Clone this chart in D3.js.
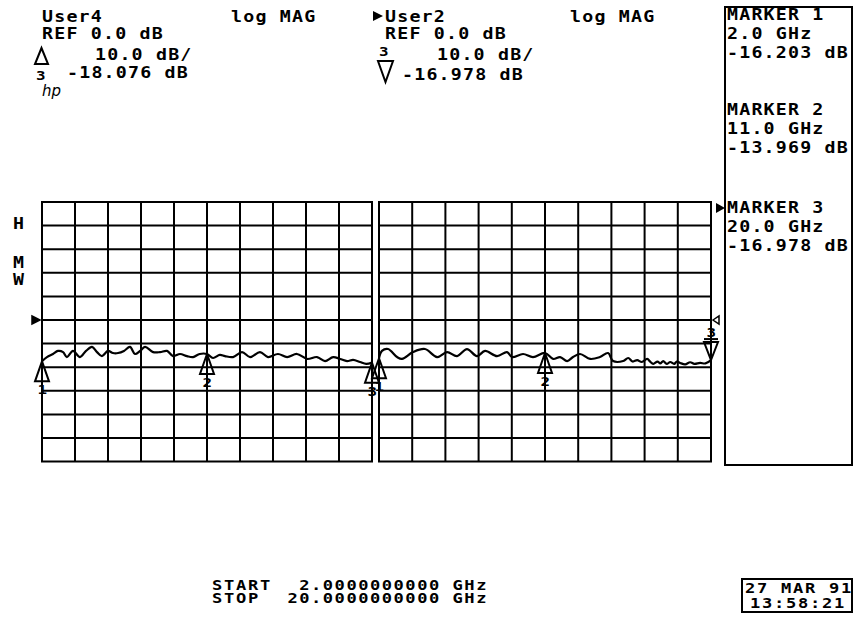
<!DOCTYPE html>
<html>
<head>
<meta charset="utf-8">
<script src="https://cdn.jsdelivr.net/npm/d3@7"></script>
<style>
  html, body { margin: 0; padding: 0; background: #fff; }
  svg { display: block; }
  text { font-family: "DejaVu Sans Mono", monospace; font-weight: bold; fill: #000; }
</style>
</head>
<body>
<svg id="chart" width="854" height="617"></svg>
<script>
// Sweep and scale settings
const startGHz = 2, stopGHz = 20;
const refDb = 0, dbPerDiv = 10;
const hDivs = 10, vDivsAbove = 5, vDivsBelow = 6;

// Channel 1 (User4) trace, GHz / dB
const user4Freq = [2.0, 2.27, 2.6, 2.87, 3.15, 3.36, 3.69, 4.07, 4.4, 4.73, 5.0, 5.27, 5.6, 5.87, 6.15, 6.47, 6.8, 7.07, 7.35, 7.62, 8.06, 8.44, 8.82, 9.15, 9.53, 9.91, 10.24, 10.6, 11.0, 11.33, 11.7, 11.98, 12.42, 12.91, 13.35, 13.89, 14.33, 14.87, 15.37, 15.91, 16.46, 17.0, 17.44, 17.88, 18.26, 18.64, 18.97, 19.35, 19.68, 20.0];
const user4Db = [-17.5, -15.7, -14.4, -13.1, -13.6, -15.7, -13.1, -15.7, -13.1, -11.4, -13.6, -15.3, -13.1, -14.0, -14.0, -13.1, -11.4, -14.4, -13.1, -11.4, -13.6, -13.6, -13.1, -15.3, -14.4, -15.3, -15.7, -14.4, -14.4, -16.1, -14.8, -15.3, -15.7, -13.6, -15.7, -13.6, -15.7, -14.4, -15.7, -14.4, -16.5, -15.7, -17.4, -15.7, -16.5, -17.4, -16.9, -17.8, -18.6, -18.076];

// Channel 2 (User2) trace, GHz / dB
const user2Freq = [2.0, 2.16, 2.49, 2.98, 3.25, 3.84, 4.49, 5.15, 5.69, 6.23, 6.77, 7.31, 7.75, 8.4, 8.94, 9.21, 9.81, 10.35, 11.0, 11.44, 11.82, 12.2, 12.52, 12.9, 13.45, 13.98, 14.42, 14.69, 15.24, 15.51, 15.75, 16.0, 16.25, 16.54, 16.7, 16.87, 17.1, 17.25, 17.41, 17.6, 17.79, 18.0, 18.15, 18.33, 18.6, 18.87, 19.1, 19.41, 19.7, 20.0];
const user2Db = [-16.203, -13.1, -12.3, -15.7, -16.5, -13.6, -12.3, -15.7, -13.6, -15.3, -12.3, -15.3, -13.1, -15.3, -13.6, -15.7, -14.4, -15.7, -13.969, -16.5, -15.7, -17.4, -15.7, -14.4, -16.5, -15.7, -14.0, -17.4, -17.4, -16.1, -17.6, -17.0, -17.8, -16.5, -17.6, -18.6, -17.6, -18.4, -17.4, -18.6, -17.8, -18.6, -17.6, -18.2, -18.8, -17.9, -18.6, -18.2, -18.4, -16.978];

// Markers (GHz) and the marker readout of the active channel
const markerFreq = [2.0, 11.0, 20.0];
const markerNames = ["MARKER 1", "MARKER 2", "MARKER 3"];
const markerFreqLabels = ["2.0 GHz", "11.0 GHz", "20.0 GHz"];
const markerValueLabels = ["-16.203 dB", "-13.969 dB", "-16.978 dB"];

// Header annotations
const chan1Header = ["User4", "REF 0.0 dB", "10.0 dB/", "-18.076 dB"];
const chan2Header = ["User2", "REF 0.0 dB", "10.0 dB/", "-16.978 dB"];
const formatLabel = "log MAG";
const sweepLabels = ["START", "STOP"];
const sweepValues = ["2.0000000000 GHz", "20.0000000000 GHz"];
const dateLabels = ["27 MAR 91", "13:58:21"];
const sideLetters = ["H", "M", "W"];

const svg = d3.select("#chart");

// Wide plotter-style text: horizontal stretch plus spacing to a fixed pitch
function label(x, y, str, size = 15, pitch = 12.2, anchor = "start") {
  const adv = 0.602 * size;
  const sx = 1.22;
  const ls = pitch / sx - adv;
  const width = pitch * str.length;
  let x0 = x;
  if (anchor === "end") x0 = x - width;
  if (anchor === "middle") x0 = x - width / 2;
  return svg.append("text")
    .attr("transform", `translate(${x0},${y}) scale(${sx},1)`)
    .attr("font-size", size)
    .attr("letter-spacing", ls)
    .text(str);
}

// Grid panes
const gridTop = 202, rowH = 23.6;
const gridBottom = gridTop + rowH * (vDivsAbove + vDivsBelow);
const y = d3.scaleLinear()
  .domain([refDb + vDivsAbove * dbPerDiv, refDb - vDivsBelow * dbPerDiv])
  .range([gridTop, gridBottom]);
const xLeft = d3.scaleLinear().domain([startGHz, stopGHz]).range([42, 372]);
const xRight = d3.scaleLinear().domain([startGHz, stopGHz]).range([379, 711]);

const freqTicks = d3.range(hDivs + 1).map(i => startGHz + i * (stopGHz - startGHz) / hDivs);
const dbTicks = d3.range(vDivsAbove + vDivsBelow + 1).map(i => refDb + vDivsAbove * dbPerDiv - i * dbPerDiv);

function drawGrid(x) {
  const g = svg.append("g").attr("stroke", "#000").attr("stroke-width", 2).attr("fill", "none");
  g.selectAll("line.v").data(freqTicks).join("line")
    .attr("x1", d => x(d)).attr("x2", d => x(d))
    .attr("y1", y.range()[0]).attr("y2", y.range()[1]);
  g.selectAll("line.h").data(dbTicks).join("line")
    .attr("x1", x.range()[0] - 1).attr("x2", x.range()[1] + 1)
    .attr("y1", d => y(d)).attr("y2", d => y(d));
}
drawGrid(xLeft);
drawGrid(xRight);

// Traces
const line = x => d3.line().x(d => x(d.f)).y(d => y(d.db)).curve(d3.curveCatmullRom.alpha(0.5));
const user4 = user4Freq.map((f, i) => ({ f, db: user4Db[i] }));
const user2 = user2Freq.map((f, i) => ({ f, db: user2Db[i] }));
svg.append("path").datum(user4).attr("d", line(xLeft))
  .attr("fill", "none").attr("stroke", "#000").attr("stroke-width", 2.2).attr("stroke-linejoin", "round");
svg.append("path").datum(user2).attr("d", line(xRight))
  .attr("fill", "none").attr("stroke", "#000").attr("stroke-width", 2.2).attr("stroke-linejoin", "round");

function traceAt(data, f) {
  const i = data.findIndex(d => d.f === f);
  return data[i].db;
}

// Marker symbols
function upMarker(px, py, n) {
  svg.append("path")
    .attr("d", `M${px},${py} L${px - 7},${py + 20} L${px + 7},${py + 20} Z`)
    .attr("fill", "none").attr("stroke", "#000").attr("stroke-width", 2);
  svg.append("line").attr("x1", px).attr("x2", px).attr("y1", py + 20).attr("y2", py + 24)
    .attr("stroke", "#000").attr("stroke-width", 2);
  label(px, py + 33, String(n), 13, 9, "middle");
}
function downMarker(px, py, n) {
  svg.append("path")
    .attr("d", `M${px},${py} L${px - 7},${py - 18} L${px + 7},${py - 18} Z`)
    .attr("fill", "none").attr("stroke", "#000").attr("stroke-width", 2);
  svg.append("line").attr("x1", px - 7).attr("x2", px + 7).attr("y1", py - 21).attr("y2", py - 21)
    .attr("stroke", "#000").attr("stroke-width", 2);
  label(px, py - 23, String(n), 13, 9, "middle");
}
markerFreq.forEach((f, i) => upMarker(xLeft(f), y(traceAt(user4, f)), i + 1));
markerFreq.forEach((f, i) => {
  if (i < 2) upMarker(xRight(f), y(traceAt(user2, f)), i + 1);
  else downMarker(xRight(f), y(traceAt(user2, f)), i + 1);
});

// Reference level pointers
svg.append("path")
  .attr("d", `M${32},${y(refDb) - 4} L${40},${y(refDb)} L${32},${y(refDb) + 4} Z`)
  .attr("fill", "#000").attr("stroke", "#000").attr("stroke-width", 1.5);
svg.append("path")
  .attr("d", `M${713},${y(refDb)} L${719},${y(refDb) - 4} L${719},${y(refDb) + 4} Z`)
  .attr("fill", "none").attr("stroke", "#000").attr("stroke-width", 1.5);

// Side letters
label(13, 229, sideLetters[0], 15, 12);
label(13, 268, sideLetters[1], 15, 12);
label(13, 285, sideLetters[2], 15, 12);

// Channel 1 header
label(42, 22, chan1Header[0]);
label(42, 39, chan1Header[1]);
label(95, 60, chan1Header[2]);
label(67, 78, chan1Header[3]);
label(231, 22, formatLabel);
svg.append("path").attr("d", "M41.5,48 L35,64 L48,64 Z")
  .attr("fill", "none").attr("stroke", "#000").attr("stroke-width", 2);
label(36, 80, "3", 13, 10);
svg.append("text").attr("x", 42).attr("y", 96)
  .style("font-size", "15px").style("font-style", "italic")
  .style("font-weight", "normal").style("font-family", "'DejaVu Sans', sans-serif")
  .text("hp");

// Channel 2 header
svg.append("path").attr("d", "M373,11 L383,16 L373,21 Z").attr("fill", "#000");
label(385, 22, chan2Header[0]);
label(385, 39, chan2Header[1]);
label(437, 60, chan2Header[2]);
label(402, 80, chan2Header[3]);
label(570, 22, formatLabel);
label(379, 56, "3", 13, 10);
svg.append("path").attr("d", "M378,61 L393,61 L385.5,82 Z")
  .attr("fill", "none").attr("stroke", "#000").attr("stroke-width", 2);

// Marker readout panel
svg.append("rect").attr("x", 725).attr("y", 7).attr("width", 127).attr("height", 458)
  .attr("fill", "none").attr("stroke", "#000").attr("stroke-width", 2);
const panelBase = [20, 115, 213];
markerNames.forEach((m, i) => {
  label(727, panelBase[i], m);
  label(727, panelBase[i] + 19, markerFreqLabels[i]);
  label(727, panelBase[i] + 38, markerValueLabels[i]);
});
svg.append("path").attr("d", "M716,203 L725,208 L716,213 Z").attr("fill", "#000");

// Sweep range
label(212, 590, sweepLabels[0], 14, 12);
label(212, 603, sweepLabels[1], 14, 12);
label(488, 590, sweepValues[0], 14, 11.8, "end");
label(488, 603, sweepValues[1], 14, 11.8, "end");

// Date box
svg.append("rect").attr("x", 742).attr("y", 579).attr("width", 110).attr("height", 33)
  .attr("fill", "none").attr("stroke", "#000").attr("stroke-width", 2);
label(745, 593, dateLabels[0], 14, 12);
label(750, 608, dateLabels[1], 14, 12);
</script>
</body>
</html>
